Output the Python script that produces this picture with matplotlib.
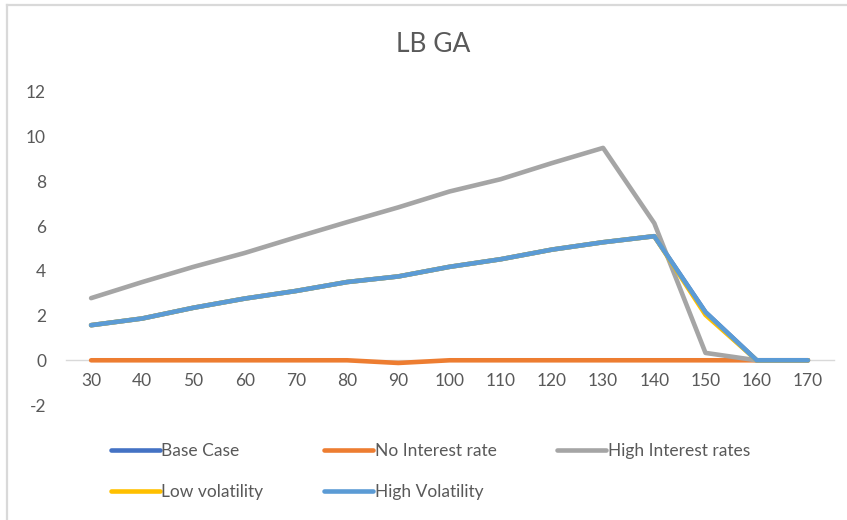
import matplotlib
matplotlib.use("Agg")
import matplotlib.pyplot as plt
from matplotlib.lines import Line2D

plt.rcParams['font.family'] = ['Lato', 'DejaVu Sans']
plt.rcParams['axes.unicode_minus'] = False

# strike levels on the x axis
strikes = [30, 40, 50, 60, 70, 80, 90, 100, 110, 120, 130, 140, 150, 160, 170]

base_case = [1.57, 1.87, 2.35, 2.76, 3.1, 3.5, 3.75, 4.18, 4.52, 4.95, 5.28, 5.55, 2.15, 0, 0]
no_interest = [0, 0, 0, 0, 0, 0, -0.12, 0, 0, 0, 0, 0, 0, 0, 0]
high_interest = [2.78, 3.5, 4.18, 4.8, 5.5, 6.18, 6.84, 7.55, 8.1, 8.82, 9.5, 6.13, 0.33, 0, 0]
low_vol = [1.57, 1.87, 2.35, 2.76, 3.1, 3.5, 3.75, 4.18, 4.52, 4.95, 5.28, 5.55, 2.03, 0, 0]
high_vol = [1.57, 1.87, 2.35, 2.76, 3.1, 3.5, 3.75, 4.18, 4.52, 4.95, 5.28, 5.55, 2.15, 0, 0]

series = [
    ("Base Case", base_case, "#4472C4"),
    ("No Interest rate", no_interest, "#ED7D31"),
    ("High Interest rates", high_interest, "#A5A5A5"),
    ("Low volatility", low_vol, "#FFC000"),
    ("High Volatility", high_vol, "#5B9BD5"),
]

txt = "#595959"

fig = plt.figure(figsize=(8.47, 5.2), dpi=100)
ax = fig.add_axes([65.5 / 847, 1 - 405 / 520, (833.5 - 65.5) / 847, (405 - 92) / 520])

x = list(range(len(strikes)))
lines = {}
for name, vals, col in series:
    ln, = ax.plot(x, vals, color=col, lw=3.3, solid_capstyle='round',
                  solid_joinstyle='round', label=name)
    lines[name] = ln

ax.set_xlim(-0.5, len(strikes) - 0.5)
ax.set_ylim(-2, 12)
ax.set_yticks(range(-2, 13, 2))
ax.set_xticks(x)
ax.set_xticklabels([str(s) for s in strikes])

for s in ['top', 'right', 'left']:
    ax.spines[s].set_visible(False)
ax.spines['bottom'].set_position(('data', 0))
ax.spines['bottom'].set_color('#d9d9d9')
ax.spines['bottom'].set_linewidth(1.0)
ax.spines['bottom'].set_zorder(0)
ax.tick_params(axis='both', length=0, colors=txt, labelsize=12.5)
ax.tick_params(axis='y', pad=14)
ax.tick_params(axis='x', pad=9)

fig.text(433 / 847, 1 - 45 / 520, "LB GA", ha='center', va='center',
         fontsize=19, color=txt)

order = ["Base Case", "Low volatility", "No Interest rate", "High Volatility",
         "High Interest rates"]
leg = fig.legend([lines[n] for n in order], order, ncol=3, frameon=False,
                 loc='upper left', bbox_to_anchor=(104 / 847, 1 - 436 / 520),
                 fontsize=12.5, handlelength=2.8, handletextpad=0.1,
                 columnspacing=3.5, labelspacing=1.47, borderaxespad=0)
for t in leg.get_texts():
    t.set_color(txt)
for h in leg.get_lines():
    h.set_linewidth(3.3)

# chart area edge lines
fig.add_artist(Line2D([7 / 847, 846 / 847], [1 - 5 / 520, 1 - 5 / 520],
                      color='#d9d9d9', lw=1.6, transform=fig.transFigure))
fig.add_artist(Line2D([7 / 847, 7 / 847], [1 - 5 / 520, 0],
                      color='#d9d9d9', lw=1.6, transform=fig.transFigure))

fig.savefig("out.png", dpi=100, facecolor='white')
